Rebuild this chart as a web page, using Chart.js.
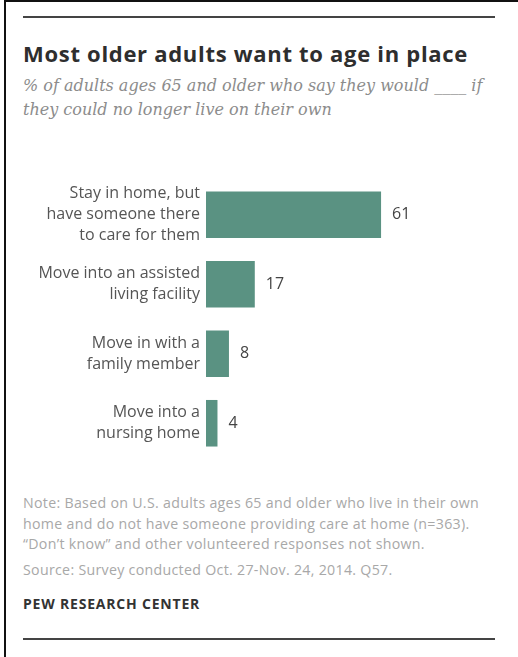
<!DOCTYPE html>
<html>
<head>
<meta charset="utf-8">
<script src="https://cdn.jsdelivr.net/npm/chart.js@4.4.1/dist/chart.umd.min.js"></script>
<style>
  body { margin: 0; background: #fff; width: 518px; height: 657px; position: relative; overflow: hidden; }
  .frame { position: absolute; left: 4px; top: 0; width: 520px; height: 660px; border-left: 2px solid #111; border-top: 2px solid #111; }
  .rule { position: absolute; left: 23px; width: 472px; height: 2px; background: #444; }
  .title { position: absolute; left: 23px; top: 38px; font: bold 22px "Open Sans", sans-serif; letter-spacing: 0.7px; color: #2e2e2e; white-space: nowrap; }
  .subtitle { position: absolute; left: 23px; top: 74px; font: italic 16px "DejaVu Serif", serif; color: #8c8c8c; line-height: 24px; white-space: nowrap; }
  .note { position: absolute; left: 23px; font: 14.2px "Open Sans", sans-serif; letter-spacing: 0.3px; color: #a8a8a8; line-height: 20.5px; white-space: nowrap; }
  .brand { position: absolute; left: 23px; top: 594px; font: bold 14px "Open Sans", sans-serif; letter-spacing: 0.8px; color: #333; white-space: nowrap; }
  #wrap { position: absolute; left: 0; top: 180px; width: 518px; height: 278px; }
</style>
</head>
<body>
<div class="frame"></div>
<div class="rule" style="top:16px"></div>
<div class="title">Most older adults want to age in place</div>
<div class="subtitle">% of adults ages 65 and older who say they would ____ if<br>they could no longer live on their own</div>
<div id="wrap"><canvas id="chart"></canvas></div>
<div class="note" style="top:493px">Note: Based on U.S. adults ages 65 and older who live in their own<br>home and do not have someone providing care at home (n=363).<br>“Don’t know” and other volunteered responses not shown.</div>
<div class="note" style="top:560px">Source: Survey conducted Oct. 27-Nov. 24, 2014. Q57.</div>
<div class="brand">PEW RESEARCH CENTER</div>
<div class="rule" style="top:638px"></div>
<script>
// answers and shares (%)
const categories = [
    ['Stay in home, but', 'have someone there', 'to care for them'],
    ['Move into an assisted', 'living facility'],
    ['Move in with a', 'family member'],
    ['Move into a', 'nursing home']
];
const shares = [61, 17, 8, 4];

const barColor = '#5a9282';

// draw the number just past the end of each bar
const valueLabels = {
    id: 'valueLabels',
    afterDatasetsDraw(chart) {
        const ctx = chart.ctx;
        ctx.save();
        ctx.font = '16px "Open Sans", sans-serif';
        ctx.fillStyle = '#444';
        ctx.textBaseline = 'middle';
        chart.getDatasetMeta(0).data.forEach((bar, i) => {
            ctx.fillText(shares[i], bar.x + 11, bar.y);
        });
        ctx.restore();
    }
};

new Chart(document.getElementById('chart'), {
    type: 'bar',
    data: {
        labels: categories,
        datasets: [{ data: shares, backgroundColor: barColor, barPercentage: 0.67, categoryPercentage: 1 }]
    },
    options: {
        indexAxis: 'y',
        responsive: true,
        maintainAspectRatio: false,
        animation: false,
        layout: { padding: { top: 0, bottom: 0, left: 0, right: 25 } },
        plugins: { legend: { display: false }, tooltip: { enabled: false } },
        scales: {
            x: { display: false, min: 0, max: 100 },
            y: {
                grid: { display: false, drawTicks: false },
                border: { display: false },
                ticks: {
                    color: '#555',
                    padding: 6,
                    font: { family: '"Open Sans", sans-serif', size: 16, lineHeight: 1.32 }
                },
                afterFit(scale) {
                    scale.width = 206;
                    // labels may overhang the first/last band, no extra room needed
                    scale.paddingTop = 0;
                    scale.paddingBottom = 0;
                }
            }
        }
    },
    plugins: [valueLabels]
});
</script>
</body>
</html>
